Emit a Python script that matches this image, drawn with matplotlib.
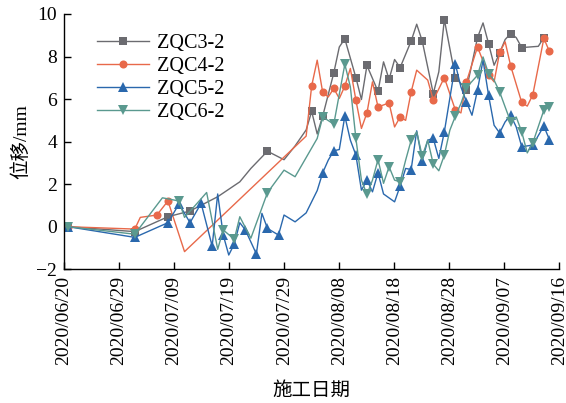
import numpy as np
import matplotlib
matplotlib.use("Agg")
import matplotlib.pyplot as plt

# day offsets counted from 2020/06/20, displacement in mm
days_zqc3 = [0, 12, 18, 22, 27, 31, 33, 36, 39, 41, 43, 44, 45, 46, 48, 49, 50, 52, 53, 54,
             56, 57, 58, 59, 60, 62, 63, 64, 66, 67, 68, 70, 72, 74, 75, 76, 77, 78, 79, 80,
             81, 82, 85, 86]
disp_zqc3 = [0, -0.23, 0.47, 0.74, 1.41, 2.11, 2.74, 3.55, 3.15, 3.80, 4.55, 5.42, 4.36, 5.20,
             7.23, 8.45, 8.83, 7.01, 5.98, 7.58, 6.36, 7.75, 6.93, 7.86, 7.48, 8.73, 9.52, 8.73,
             6.26, 7.28, 9.74, 7.01, 6.45, 8.89, 9.58, 8.61, 7.59, 8.17, 8.80, 9.08, 8.89, 8.42,
             8.48, 8.89]

days_zqc4 = [0, 12, 13, 16, 18, 21, 43, 44, 45, 46, 47, 48, 49, 50, 51, 52, 53, 54, 55, 56,
             58, 59, 60, 61, 62, 63, 65, 66, 68, 70, 71, 72, 74, 76, 77, 78, 79, 80, 82, 83,
             84, 86, 87]
disp_zqc4 = [0, -0.11, 0.44, 0.55, 1.21, -1.17, 4.26, 6.62, 7.83, 6.31, 6.10, 6.50, 6.03, 6.61,
             7.44, 5.95, 4.62, 5.35, 6.81, 5.63, 5.82, 4.69, 5.16, 5.00, 6.34, 7.36, 6.89, 5.95,
             7.01, 5.48, 5.35, 6.81, 8.45, 7.12, 6.81, 8.19, 8.69, 7.56, 5.84, 5.67, 6.20, 8.85,
             8.25]

days_zqc5 = [0, 12, 18, 20, 22, 24, 26, 27, 28, 29, 30, 31, 32, 34, 35, 36, 38, 39, 41, 43,
             45, 46, 47, 48, 49, 50, 51, 52, 53, 54, 55, 56, 57, 59, 60, 61, 62, 63, 64, 65,
             66, 67, 68, 70, 71, 72, 73, 74, 75, 76, 77, 78, 79, 80, 81, 82, 84, 86, 87]
disp_zqc5 = [0, -0.50, 0.19, 1.07, 0.19, 1.10, -0.91, 1.54, -0.39, -1.33, -0.81, 0.19, -0.15,
             -1.28, 0.63, -0.08, -0.39, 0.55, 0.23, 0.65, 1.70, 2.54, 3.13, 3.57, 3.63, 5.20,
             4.07, 3.37, 1.72, 2.19, 1.64, 2.54, 1.54, 1.17, 1.91, 2.74, 2.69, 4.51, 3.10, 4.07,
             4.15, 3.21, 4.46, 7.64, 6.57, 5.87, 5.24, 6.42, 7.83, 6.18, 4.77, 4.41, 4.93, 5.24,
             4.69, 3.76, 3.84, 4.73, 4.10]

days_zqc6 = [0, 12, 17, 20, 21, 23, 25, 27, 28, 30, 31, 33, 36, 39, 41, 45, 46, 48, 50, 51,
             52, 53, 54, 55, 56, 57, 58, 59, 60, 61, 62, 63, 64, 65, 66, 67, 68, 69, 70, 71,
             72, 74, 75, 76, 77, 78, 79, 80, 81, 82, 83, 84, 86, 87]
disp_zqc6 = [0, -0.35, 1.36, 1.21, 0.44, 1.02, 1.61, -1.06, -0.15, -0.59, 0.47, -0.54, 1.60,
             2.66, 2.35, 4.15, 5.16, 4.82, 7.64, 6.57, 4.15, 2.19, 1.52, 2.19, 3.16, 2.04, 2.82,
             2.19, 2.11, 3.13, 4.07, 4.46, 3.32, 4.07, 2.94, 2.63, 3.37, 4.54, 5.20, 5.79, 6.54,
             7.12, 7.98, 7.20, 6.89, 6.34, 5.63, 4.93, 5.16, 4.46, 3.47, 3.94, 5.48, 5.63]

series_names = ["ZQC3-2", "ZQC4-2", "ZQC5-2", "ZQC6-2"]
tick_labels = ["2020/06/20", "2020/06/29", "2020/07/09", "2020/07/19", "2020/07/29",
               "2020/08/08", "2020/08/18", "2020/08/28", "2020/09/07", "2020/09/16"]

styles = [
    dict(color="#6b6b70", marker="s", ms=5.2),
    dict(color="#e8694a", marker="o", ms=5.8),
    dict(color="#2a68ad", marker="^", ms=6.6),
    dict(color="#5a998f", marker="v", ms=6.6),
]

plt.rcParams["font.family"] = ["Liberation Serif", "Noto Sans CJK SC"]
plt.rcParams["font.size"] = 14

fig = plt.figure(figsize=(5.66, 4.03), dpi=100)
ax = fig.add_axes([0.1131, 0.3318, 0.8751, 0.6335])

data = [(days_zqc3, disp_zqc3), (days_zqc4, disp_zqc4),
        (days_zqc5, disp_zqc5), (days_zqc6, disp_zqc6)]
for (d, v), name, st in zip(data, series_names, styles):
    d = np.asarray(d)
    # a marker every other day, plus the last reading
    marks = [i for i in range(len(d)) if d[i] % 2 == 0 or i == len(d) - 1]
    ax.plot(d, v, lw=1.0, markevery=marks, markeredgewidth=0, label=name, **st)

xmin, xmax = -0.8, 88.8
ax.set_xlim(xmin, xmax)
ax.set_ylim(-2, 10)
ax.set_xticks(np.linspace(xmin, xmax, len(tick_labels)))
ax.set_xticklabels(tick_labels, rotation=90)
ax.set_yticks(np.arange(-2, 11, 2))

for side in ("top", "right"):
    ax.spines[side].set_visible(False)
for side in ("left", "bottom"):
    ax.spines[side].set_linewidth(1.0)
ax.tick_params(direction="in", length=5, width=1.0, labelsize=14, pad=5)

ax.set_xlabel("施工日期", fontsize=14, labelpad=12)
ax.set_ylabel("位移/mm", fontsize=14, labelpad=4)

ax.legend(loc="upper left", bbox_to_anchor=(0.05, 0.955), frameon=False, fontsize=14.5,
          handlelength=2.6, handletextpad=0.4, labelspacing=0.2, borderaxespad=0)

fig.savefig("out.png", dpi=100)
